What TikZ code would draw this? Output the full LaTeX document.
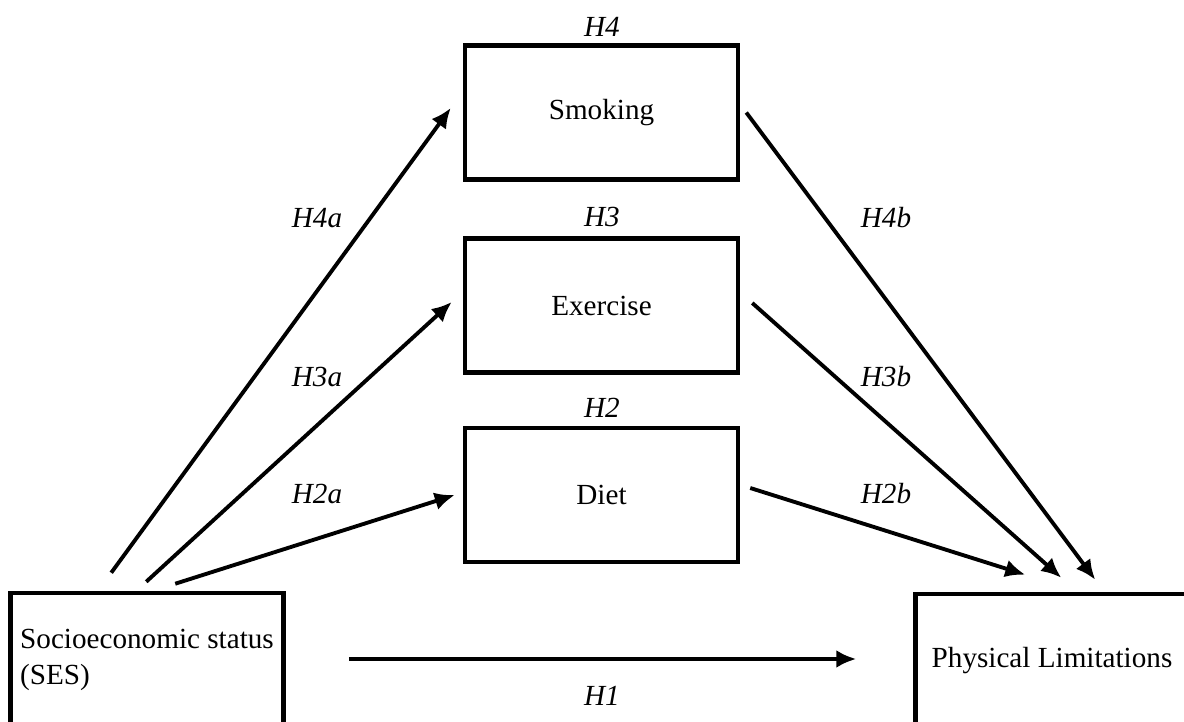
\documentclass[tikz,border=0pt]{standalone}
\usepackage{fontspec}
\setmainfont{Liberation Serif}
\usetikzlibrary{arrows.meta,calc}

\begin{document}
\begin{tikzpicture}[x=0.02cm, y=-0.02cm]
	\tikzstyle{box} = [draw, line width=2.6pt, minimum width=5.46cm, minimum height=2.68cm, inner sep=0pt, font=\fontsize{16.6}{20}\selectfont]
	\tikzstyle{hyp} = [inner sep=0pt, font=\fontsize{16.6}{20}\selectfont\itshape]
	\tikzstyle{link} = [line width=2.2pt, -{Latex[length=4mm,width=3.6mm]}]
	\useasboundingbox (0,0) rectangle (1184,722);
	\clip (0,0) rectangle (1184,722);
	% boxes
	\node[box] (smoking) at (601.5,112.5) {Smoking};
	\node[box] (exercise) at (601.5,305.5) {Exercise};
	\node[box] (diet) at (601.5,495) {Diet};
	\node[box, align=left] (ses) at (147,660) {Socioeconomic status\\(SES)};
	\node[box] (pl) at (1052,661) {Physical Limitations};
	% paths a
	\draw[link] ($(ses.north west)+(103,-18)$) -- ($(smoking.west)+(-12,-4.5)$);
	\draw[link] ($(ses.north west)+(138,-9)$) -- ($(exercise.west)+(-11,-3.5)$);
	\draw[link] ($(ses.north west)+(167,-7)$) -- ($(diet.west)+(-8,0)$);
	% paths b
	\draw[link] ($(smoking.east)+(6,0)$) -- ($(pl.north west)+(182,-12)$);
	\draw[link] ($(exercise.east)+(12,-2.5)$) -- ($(pl.north west)+(148,-14)$);
	\draw[link] ($(diet.east)+(10,-7)$) -- ($(pl.north west)+(112,-17)$);
	% direct path
	\draw[link] ($(ses.east)+(63,-1)$) -- ($(pl.west)+(-57,-2)$);
	% hypotheses
	\node[hyp] (h4) at (602,27) {H4};
	\node[hyp] (h3) at (602,217) {H3};
	\node[hyp] (h2) at (602,408) {H2};
	\node[hyp] (h1) at (602,696) {H1};
	\node[hyp] (h4a) at (317,218) {H4a};
	\node[hyp] (h3a) at (317,377) {H3a};
	\node[hyp] (h2a) at (317,494) {H2a};
	\node[hyp] (h4b) at (886,218) {H4b};
	\node[hyp] (h3b) at (886,377) {H3b};
	\node[hyp] (h2b) at (886,494) {H2b};
\end{tikzpicture}
\end{document}
